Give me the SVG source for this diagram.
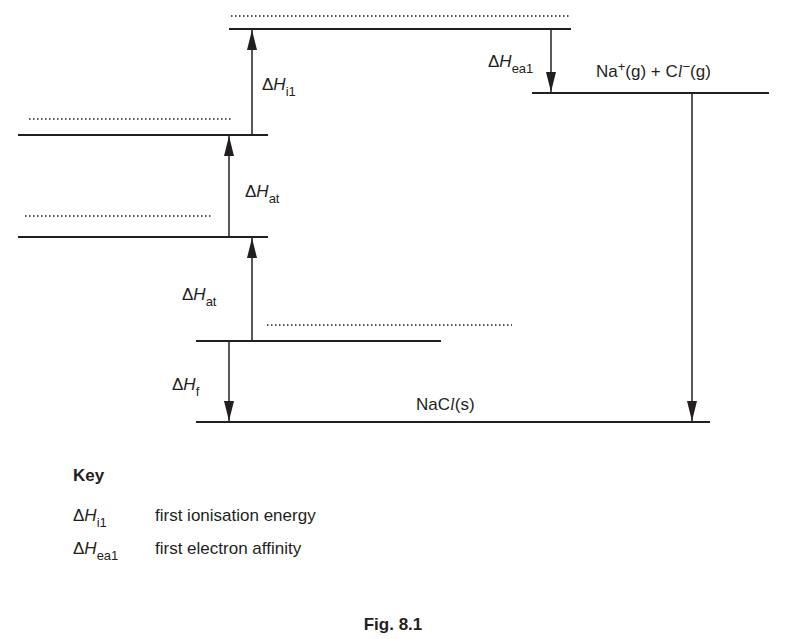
<svg xmlns="http://www.w3.org/2000/svg" width="787" height="639" viewBox="0 0 787 639">
<defs>
<marker id="ah" viewBox="0 0 20 10" refX="20" refY="5" markerWidth="20" markerHeight="10" markerUnits="userSpaceOnUse" orient="auto"><path d="M0,0 L20,5 L0,10 Z" fill="#231f20"/></marker>
<style>
text{font-family:"Liberation Sans",Arial,sans-serif;font-size:17px;fill:#231f20}
.lv{stroke:#231f20;stroke-width:2;fill:none}
.dt{stroke:#231f20;stroke-width:1.5;stroke-dasharray:1.5 2.5;fill:none}
.ar{stroke:#231f20;stroke-width:1.5;fill:none;marker-end:url(#ah)}
.b{font-weight:bold}
.s{font-size:13px}
.i{font-style:italic}
</style>
</defs>
<g id="levels">
<line class="lv" x1="229" y1="29" x2="571" y2="29"/>
<line class="dt" x1="231" y1="16" x2="570" y2="16"/>
<line class="lv" x1="18" y1="135" x2="268" y2="135"/>
<line class="dt" x1="29" y1="119" x2="233" y2="119"/>
<line class="lv" x1="18" y1="237" x2="268" y2="237"/>
<line class="dt" x1="25" y1="216" x2="212" y2="216"/>
<line class="lv" x1="196" y1="341" x2="441" y2="341"/>
<line class="dt" x1="267" y1="325" x2="512" y2="325"/>
<line class="lv" x1="196" y1="422" x2="710" y2="422"/>
<line class="lv" x1="532" y1="93" x2="769" y2="93"/>
</g>
<g id="connectors">
<line class="ar" x1="252" y1="135" x2="252" y2="30"/>
<line class="ar" x1="229" y1="237" x2="229" y2="136"/>
<line class="ar" x1="252" y1="341" x2="252" y2="238"/>
<line class="ar" x1="229" y1="341" x2="229" y2="421"/>
<line class="ar" x1="551" y1="29" x2="551" y2="92"/>
<line class="ar" x1="692" y1="93" x2="692" y2="421"/>
</g>
<g id="labels">
<text x="262" y="90">Δ<tspan class="i">H</tspan><tspan class="s" dy="6">i1</tspan></text>
<text x="245" y="197">Δ<tspan class="i">H</tspan><tspan class="s" dy="6">at</tspan></text>
<text x="182" y="300">Δ<tspan class="i">H</tspan><tspan class="s" dy="6">at</tspan></text>
<text x="172" y="390">Δ<tspan class="i">H</tspan><tspan class="s" dy="6">f</tspan></text>
<text x="488" y="67">Δ<tspan class="i">H</tspan><tspan class="s" dy="6">ea1</tspan></text>
<text x="596" y="77">Na<tspan class="s" dy="-6">+</tspan><tspan dy="6">(g) + C</tspan><tspan font-style="italic" font-family="Liberation Serif">l</tspan><tspan class="s" dy="-6">−</tspan><tspan dy="6">(g)</tspan></text>
<text x="416" y="410">NaC<tspan font-style="italic" font-family="Liberation Serif">l</tspan>(s)</text>
</g>
<g id="key">
<text class="b" x="73" y="481">Key</text>
<text x="73" y="521">Δ<tspan class="i">H</tspan><tspan class="s" dy="6">i1</tspan></text>
<text x="155" y="521">first ionisation energy</text>
<text x="73" y="554">Δ<tspan class="i">H</tspan><tspan class="s" dy="6">ea1</tspan></text>
<text x="155" y="554">first electron affinity</text>
<text class="b" x="393" y="630" text-anchor="middle">Fig. 8.1</text>
</g>
</svg>
